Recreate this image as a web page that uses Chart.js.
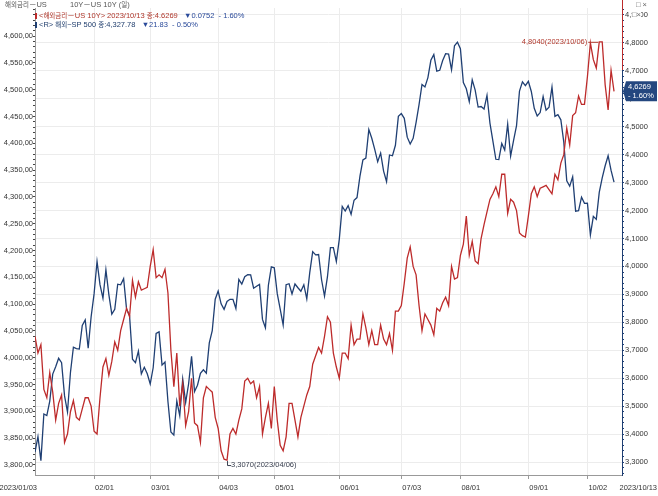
<!DOCTYPE html>
<html>
<head>
<meta charset="utf-8">
<script src="https://cdn.jsdelivr.net/npm/chart.js@4.4.0/dist/chart.umd.min.js"></script>
<style>
body { margin: 0; background: #fff; }
#wrap { position: relative; width: 658px; height: 496px; }
#grafico { position: absolute; left: 0; top: 0; }
.t { position: absolute; font: 7.5px "Liberation Sans", "Noto Sans CJK KR", sans-serif; white-space: pre; line-height: 10px; }
.k { font-size: 6.5px; }
.mk { display: inline-block; width: 2px; height: 6px; margin-right: 2px; vertical-align: -1px; }
.dn { color: #2a4a9a; }
</style>
</head>
<body>
<div id="wrap">
  <canvas id="grafico" width="658" height="496"></canvas>
  <div class="t" style="left:5px;top:0;color:#555"><span class="k">해외금리</span>－US</div>
  <div class="t" style="left:70px;top:0;color:#555">10Y－US 10Y (<span class="k">일</span>)</div>
  <div class="t" style="left:636px;top:0;color:#666">□ ×</div>
  <div class="t" style="left:632px;top:10px;color:#666;background:#fff">□×</div>
  <div class="t" id="lg1" style="left:35px;top:11px;color:#b0382c"></div>
  <div class="t" id="lg2" style="left:35px;top:20px;color:#23406f"></div>
</div>
<script>
// trading days of 2023 (month -> days)
var diasPorMes = [
    ['01', [3,4,5,6,9,10,11,12,13,17,18,19,20,23,24,25,26,27,30,31]],
    ['02', [1,2,3,6,7,8,9,10,13,14,15,16,17,21,22,23,24,27,28]],
    ['03', [1,2,3,6,7,8,9,10,13,14,15,16,17,20,21,22,23,24,27,28,29,30,31]],
    ['04', [3,4,5,6,10,11,12,13,14,17,18,19,20,21,24,25,26,27,28]],
    ['05', [1,2,3,4,5,8,9,10,11,12,15,16,17,18,19,22,23,24,25,26,30,31]],
    ['06', [1,2,5,6,7,8,9,12,13,14,15,16,20,21,22,23,26,27,28,29,30]],
    ['07', [3,5,6,7,10,11,12,13,14,17,18,19,20,21,24,25,26,27,28,31]],
    ['08', [1,2,3,4,7,8,9,10,11,14,15,16,17,18,21,22,23,24,25,28,29,30,31]],
    ['09', [1,5,6,7,8,11,12,13,14,15,18,19,20,21,22,25,26,27,28,29]],
    ['10', [2,3,4,5,6,9,10,11,12,13]]
];

var sp500 = [
    3824.14,3852.97,3808.10,3895.08,3892.09,3919.25,3969.61,3983.17,3999.09,3990.97,3928.86,3898.85,3972.61,4019.81,4016.95,4016.22,4060.43,4070.56,4017.77,4076.60,
    4119.21,4179.76,4136.48,4111.08,4164.00,4117.86,4081.50,4090.46,4137.29,4136.13,4147.60,4090.41,4079.09,3997.34,3991.05,4012.32,3970.04,3982.24,3970.15,
    3951.39,3981.35,4045.64,4048.42,3986.37,3992.01,3918.32,3861.59,3855.76,3919.29,3891.93,3960.28,3916.64,3951.57,4002.87,3936.97,3948.72,3970.99,3977.53,3971.27,4027.81,4050.83,4109.31,
    4124.51,4100.60,4090.38,4105.02,4109.11,4108.94,4091.95,4146.22,4137.64,4151.32,4154.87,4154.52,4129.79,4133.52,4137.04,4071.63,4055.99,4135.35,4169.48,
    4167.87,4119.58,4090.75,4061.22,4136.25,4138.12,4119.17,4137.64,4130.62,4124.08,4136.28,4109.90,4158.77,4198.05,4191.98,4192.63,4145.58,4115.24,4151.28,4205.45,4205.52,4179.83,
    4221.02,4282.37,4273.79,4283.85,4267.52,4293.93,4298.86,4338.93,4369.01,4372.59,4425.84,4409.59,4388.71,4365.69,4381.89,4348.33,4328.82,4378.41,4376.86,4396.44,4450.38,
    4455.59,4446.82,4411.59,4398.95,4409.53,4439.26,4472.16,4510.04,4505.42,4522.79,4554.98,4565.72,4534.87,4536.34,4554.64,4567.46,4566.75,4537.41,4582.23,4588.96,
    4576.73,4513.39,4501.89,4478.03,4518.44,4499.38,4467.71,4468.83,4464.05,4489.72,4437.86,4404.33,4370.36,4369.71,4399.77,4387.55,4436.01,4376.31,4405.71,4433.31,4497.63,4514.87,4507.66,
    4515.77,4496.83,4465.48,4451.14,4457.49,4487.46,4461.90,4467.44,4505.10,4450.32,4453.53,4443.95,4402.20,4330.00,4320.06,4337.44,4273.53,4274.51,4299.70,4288.05,
    4288.39,4229.45,4263.75,4258.19,4308.50,4335.66,4358.24,4376.95,4349.61,4327.78
];

var us10y = [
    3.75,3.69,3.72,3.56,3.53,3.62,3.55,3.45,3.51,3.54,3.37,3.40,3.48,3.52,3.46,3.45,3.49,3.53,3.53,3.50,
    3.41,3.40,3.53,3.64,3.67,3.61,3.66,3.73,3.70,3.77,3.81,3.85,3.82,3.95,3.89,3.945,3.915,3.92,3.925,
    4.00,4.06,3.96,3.97,3.96,3.99,3.905,3.70,3.57,3.69,3.50,3.58,3.43,3.48,3.60,3.44,3.43,3.37,3.53,3.57,3.56,3.55,3.46,
    3.42,3.34,3.31,3.307,3.40,3.42,3.40,3.45,3.49,3.59,3.60,3.58,3.59,3.53,3.57,3.40,3.46,3.51,3.42,
    3.57,3.45,3.36,3.34,3.39,3.51,3.51,3.45,3.39,3.46,3.50,3.54,3.57,3.65,3.68,3.71,3.69,3.75,3.82,3.80,3.69,3.64,
    3.60,3.69,3.69,3.67,3.79,3.72,3.74,3.74,3.83,3.78,3.72,3.77,3.72,3.72,3.79,3.74,3.72,3.76,3.70,3.84,3.84,
    3.86,3.94,4.03,4.07,4.00,3.97,3.86,3.77,3.83,3.81,3.79,3.755,3.85,3.84,3.87,3.89,3.86,4.00,3.955,3.96,
    4.04,4.08,4.18,4.04,4.09,4.02,4.01,4.10,4.15,4.195,4.24,4.26,4.285,4.25,4.33,4.33,4.19,4.24,4.23,4.20,4.12,4.11,4.105,
    4.18,4.26,4.285,4.25,4.28,4.285,4.29,4.275,4.26,4.33,4.31,4.37,4.40,4.495,4.435,4.54,4.55,4.61,4.58,4.58,
    4.68,4.80,4.74,4.71,4.804,4.804,4.65,4.56,4.7021,4.6269
];

var ticksEsq = [3800,3850,3900,3950,4000,4050,4100,4150,4200,4250,4300,4350,4400,4450,4500,4550,4600];
var ticksDir = [3.3,3.4,3.5,3.6,3.7,3.8,3.9,4.0,4.1,4.2,4.3,4.4,4.5,4.6,4.7,4.8,4.9];

var datas = [];
diasPorMes.forEach(function(m) {
    m[1].forEach(function(d) { datas.push(m[0] + '/' + (d < 10 ? '0' + d : d)); });
});
var inicioMes = [];
for (var i = 1; i < datas.length; i++) {
    if (datas[i].substr(0, 2) != datas[i - 1].substr(0, 2)) inicioMes.push(i);
}
var ult = datas.length - 1;

var corVermelho = '#bd2b2b';
var corAzul = '#1f3f73';
var fonte = '"Liberation Sans", Arial, sans-serif';

function fmt4(v) { return v.toFixed(4).replace('.', ','); }
function pct(d, base) { return (d < 0 ? '- ' : '+ ') + Math.abs(d / base * 100).toFixed(2) + '%'; }

// legend texts
var dif10 = us10y[ult] - us10y[ult - 1];
var difSp = sp500[ult] - sp500[ult - 1];
document.getElementById('lg1').innerHTML = '<span class="mk" style="background:' + corVermelho + '"></span>&lt;<span class="k">해외금리</span>－US 10Y&gt; 2023/' + datas[ult] + ' <span class="k">종</span>:' + us10y[ult].toFixed(4) +
    '   <span class="dn">' + (dif10 < 0 ? '▼' : '▲') + Math.abs(dif10).toFixed(4) + '  ' + pct(dif10, us10y[ult - 1]) + '</span>';
document.getElementById('lg2').innerHTML = '<span class="mk" style="background:' + corAzul + '"></span>&lt;R&gt; <span class="k">해외</span>−SP 500 <span class="k">종</span>:' + sp500[ult].toLocaleString('en-US', {minimumFractionDigits: 2}) +
    '   <span class="dn">' + (difSp < 0 ? '▼' : '▲') + Math.abs(difSp).toFixed(2) + '  ' + pct(difSp, sp500[ult - 1]) + '</span>';

function passo(de, ate, p) {
    var arr = [];
    for (var v = de; v <= ate + p / 2; v += p) arr.push({value: Math.round(v / p) * p});
    return arr;
}
function ehMultiplo(v, p) { return Math.abs(v / p - Math.round(v / p)) < 1e-6; }

var extras = {
    id: 'extras',
    afterDraw: function(chart) {
        var ctx = chart.ctx, ca = chart.chartArea;
        var xs = chart.scales.x, yd = chart.scales.yDir;
        ctx.save();
        // red top segment of right axis
        ctx.strokeStyle = corVermelho; ctx.lineWidth = 1;
        ctx.beginPath(); ctx.moveTo(ca.right + 0.5, 0); ctx.lineTo(ca.right + 0.5, 70); ctx.stroke();

        // x labels
        ctx.font = '7.5px ' + fonte; ctx.fillStyle = '#333'; ctx.textBaseline = 'middle';
        ctx.textAlign = 'left';
        inicioMes.forEach(function(i) { ctx.fillText(datas[i], xs.getPixelForValue(i) + 1, 488); });
        ctx.textAlign = 'right';
        ctx.fillText('2023/' + datas[0], ca.left + 2, 488);
        ctx.fillText('2023/' + datas[ult], chart.width - 1, 488);

        // max / min annotations
        var iMax = 0, iMin = 0;
        us10y.forEach(function(v, i) { if (v > us10y[iMax]) iMax = i; if (v < us10y[iMin]) iMin = i; });
        var px = xs.getPixelForValue(iMax), py = yd.getPixelForValue(us10y[iMax]);
        ctx.font = '7.5px ' + fonte;
        ctx.fillStyle = '#b0382c'; ctx.strokeStyle = '#b0382c';
        ctx.textAlign = 'right';
        ctx.fillText(fmt4(us10y[iMax]) + '(2023/' + datas[iMax] + ')', px - 12, py);
        ctx.beginPath(); ctx.moveTo(px - 11, py + 0.5); ctx.lineTo(px - 1, py + 0.5); ctx.stroke();

        px = xs.getPixelForValue(iMin); py = yd.getPixelForValue(us10y[iMin]);
        ctx.fillStyle = '#3a4050'; ctx.strokeStyle = '#3a4050';
        ctx.beginPath(); ctx.moveTo(px + 0.5, py + 1); ctx.lineTo(px + 0.5, py + 5.5); ctx.lineTo(px + 4, py + 5.5); ctx.stroke();
        ctx.textAlign = 'left';
        ctx.fillText(fmt4(us10y[iMin]) + '(2023/' + datas[iMin] + ')', px + 4, py + 5);

        // last value box
        py = yd.getPixelForValue(us10y[ult]);
        ctx.fillStyle = '#24477f';
        ctx.beginPath();
        ctx.moveTo(ca.right + 1, py); ctx.lineTo(ca.right + 4, py - 10); ctx.lineTo(657, py - 10);
        ctx.lineTo(657, py + 10); ctx.lineTo(ca.right + 4, py + 10); ctx.closePath(); ctx.fill();
        ctx.fillStyle = '#fff'; ctx.font = '7.5px ' + fonte;
        ctx.fillText(fmt4(us10y[ult]), ca.right + 6, py - 4);
        ctx.fillText(pct(dif10, us10y[ult - 1]), ca.right + 6, py + 5);
        ctx.restore();
    }
};

function MontaGrafico() {
    new Chart(document.getElementById('grafico'), {
        type: 'line',
        data: {
            datasets: [
                {
                    label: 'US 10Y',
                    data: us10y.map(function(v, i) { return {x: i, y: v}; }),
                    yAxisID: 'yDir',
                    borderColor: corVermelho,
                    borderWidth: 1.3,
                    pointRadius: 0,
                    fill: false,
                    tension: 0
                },
                {
                    label: 'S&P 500',
                    data: sp500.map(function(v, i) { return {x: i, y: v}; }),
                    yAxisID: 'yEsq',
                    borderColor: corAzul,
                    borderWidth: 1.3,
                    pointRadius: 0,
                    fill: false,
                    tension: 0
                }
            ]
        },
        options: {
            responsive: false,
            animation: false,
            layout: { padding: { top: 8, left: 0, right: 0, bottom: 0 } },
            plugins: { legend: { display: false }, tooltip: { enabled: false } },
            scales: {
                x: {
                    type: 'linear',
                    min: 0,
                    max: 198.7,
                    afterFit: function(s) { s.height = 21; },
                    afterBuildTicks: function(s) { s.ticks = inicioMes.map(function(i) { return {value: i}; }); },
                    ticks: { display: false, autoSkip: false },
                    grid: { color: '#ececec', tickColor: '#999', tickLength: 4 },
                    border: { color: '#999' }
                },
                yEsq: {
                    position: 'left',
                    min: 3781.3,
                    max: 4652.6,
                    afterFit: function(s) { s.width = 35; },
                    afterBuildTicks: function(s) { s.ticks = passo(3790, 4650, 10); },
                    ticks: {
                        autoSkip: false,
                        padding: 0,
                        color: '#333',
                        font: { family: fonte, size: 7.5 },
                        callback: function(v) {
                            return ticksEsq.indexOf(Math.round(v)) >= 0 ? Math.round(v).toLocaleString('en-US') + ',00' : '';
                        }
                    },
                    grid: { drawOnChartArea: false, tickColor: '#444', tickLength: 2 },
                    border: { color: '#999' }
                },
                yDir: {
                    position: 'right',
                    min: 3.2535,
                    max: 4.925,
                    afterFit: function(s) { s.width = 36; },
                    afterBuildTicks: function(s) { s.ticks = passo(3.26, 4.92, 0.02); },
                    ticks: {
                        autoSkip: false,
                        padding: 1,
                        color: '#333',
                        font: { family: fonte, size: 7.5 },
                        callback: function(v) {
                            return ehMultiplo(v, 0.1) && v > 3.25 && v < 4.95 ? fmt4(v) : '';
                        }
                    },
                    grid: {
                        color: function(c) { return c.tick && ehMultiplo(c.tick.value, 0.1) ? '#ececec' : 'rgba(0,0,0,0)'; },
                        tickColor: corAzul,
                        tickLength: 2
                    },
                    border: { color: corAzul }
                }
            }
        },
        plugins: [extras]
    });
}

MontaGrafico();
</script>
</body>
</html>
